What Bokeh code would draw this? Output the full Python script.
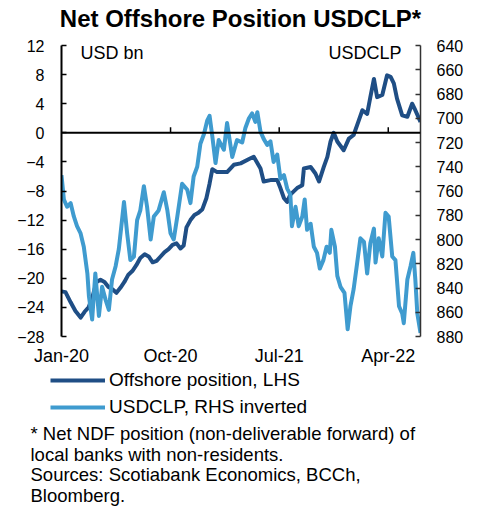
import pandas as pd
from bokeh.plotting import figure
from bokeh.layouts import column
from bokeh.models import (Range1d, LinearAxis, FixedTicker, Span, Label, Legend,
                          LegendItem, DatetimeTickFormatter)
from bokeh.embed import file_html
from bokeh.resources import INLINE

TITLE = "Net Offshore Position USDCLP*"
LEFT_UNIT = "USD bn"
RIGHT_UNIT = "USDCLP"
SERIES_NAMES = ["Offshore position, LHS", "USDCLP, RHS inverted"]
FOOTNOTES = ["* Net NDF position (non-deliverable forward) of",
             "local banks with non-residents.",
             "Sources: Scotiabank Economics, BCCh,",
             "Bloomberg."]

offshore_dates = [
    "2020-01-01", "2020-01-11", "2020-01-24", "2020-02-05", "2020-02-18", "2020-02-28",
    "2020-03-09", "2020-03-19", "2020-03-29", "2020-04-08", "2020-04-18", "2020-04-28",
    "2020-05-08", "2020-05-18", "2020-05-28", "2020-06-07", "2020-06-17", "2020-06-27",
    "2020-07-07", "2020-07-17", "2020-07-28", "2020-08-07", "2020-08-17", "2020-08-27",
    "2020-09-06", "2020-09-16", "2020-09-26", "2020-10-06", "2020-10-16", "2020-10-26",
    "2020-11-03", "2020-11-10", "2020-11-20", "2020-11-30", "2020-12-10", "2020-12-20",
    "2020-12-30", "2021-01-07", "2021-01-14", "2021-01-26", "2021-02-20", "2021-03-09",
    "2021-03-26", "2021-04-20", "2021-04-28", "2021-05-15", "2021-05-23", "2021-06-09",
    "2021-06-26", "2021-07-04", "2021-07-13", "2021-07-21", "2021-07-29", "2021-08-15",
    "2021-08-28", "2021-09-01", "2021-09-18", "2021-09-30", "2021-10-09", "2021-10-21",
    "2021-10-30", "2021-11-07", "2021-11-15", "2021-11-24", "2021-12-10", "2021-12-23",
    "2022-01-04", "2022-01-17", "2022-01-26", "2022-02-07", "2022-02-15", "2022-02-24",
    "2022-03-04", "2022-03-17", "2022-03-29", "2022-04-07", "2022-04-15", "2022-04-23",
    "2022-05-06", "2022-05-19", "2022-05-31", "2022-06-08", "2022-06-21"]
offshore_vals = [
    -21.8, -21.9, -23.3, -24.5, -25.4, -24.6,
    -24.0, -22.5, -20.5, -20.2, -20.5, -21.2,
    -21.5, -22.0, -21.3, -20.5, -19.5, -19.0,
    -18.2, -17.2, -16.7, -17.0, -17.8, -17.6,
    -17.0, -16.4, -16.0, -15.4, -15.2, -15.9,
    -15.5, -13.0, -12.0, -11.3, -11.0, -10.5,
    -9.0, -7.0, -5.0, -5.4, -5.4, -4.4,
    -4.2, -3.5, -3.3, -4.9, -6.7, -6.5,
    -6.5, -7.6, -9.0, -9.5, -8.5, -7.6,
    -7.2, -4.9, -4.7, -5.6, -6.7, -4.7,
    -3.3, -1.2, 0.0, -1.2, -2.4, -0.8,
    -0.3, 1.7, 3.1, 2.6, 4.9, 7.4,
    4.9, 5.2, 7.9, 7.7, 6.8, 4.7,
    2.4, 2.2, 4.0, 3.1, 1.5]

clp_dates = [
    "2020-01-01", "2020-01-07", "2020-01-15", "2020-01-24", "2020-02-01", "2020-02-09",
    "2020-02-18", "2020-02-26", "2020-03-06", "2020-03-10", "2020-03-18", "2020-03-26",
    "2020-04-04", "2020-04-12", "2020-04-21", "2020-04-29", "2020-05-07", "2020-05-16",
    "2020-05-24", "2020-06-06", "2020-06-14", "2020-06-22", "2020-07-01", "2020-07-09",
    "2020-07-17", "2020-07-26", "2020-08-03", "2020-08-12", "2020-08-20", "2020-09-01",
    "2020-09-14", "2020-09-23", "2020-10-01", "2020-10-09", "2020-10-18", "2020-10-30",
    "2020-11-12", "2020-11-20", "2020-11-28", "2020-12-07", "2020-12-15", "2020-12-24",
    "2021-01-01", "2021-01-07", "2021-01-14", "2021-01-22", "2021-01-30", "2021-02-12",
    "2021-02-20", "2021-03-05", "2021-03-17", "2021-03-30", "2021-04-07", "2021-04-16",
    "2021-04-24", "2021-05-02", "2021-05-07", "2021-05-15", "2021-05-23", "2021-06-01",
    "2021-06-09", "2021-06-17", "2021-06-26", "2021-07-04", "2021-07-13", "2021-07-21",
    "2021-07-29", "2021-08-02", "2021-08-11", "2021-08-19", "2021-08-28", "2021-09-03",
    "2021-09-09", "2021-09-18", "2021-09-26", "2021-10-04", "2021-10-11", "2021-10-20",
    "2021-10-28", "2021-11-05", "2021-11-09", "2021-11-18", "2021-11-24", "2021-12-02",
    "2021-12-12", "2021-12-20", "2021-12-27", "2022-01-04", "2022-01-13", "2022-01-21",
    "2022-01-30", "2022-02-07", "2022-02-15", "2022-02-24", "2022-02-28", "2022-03-08",
    "2022-03-17", "2022-03-25", "2022-04-02", "2022-04-11", "2022-04-19", "2022-04-28",
    "2022-05-06", "2022-05-10", "2022-05-19", "2022-05-27", "2022-06-03", "2022-06-08",
    "2022-06-13", "2022-06-21"]
clp_vals = [
    747, 767, 773, 770, 781, 789,
    795, 806, 828, 847, 866, 828,
    863, 839, 850, 858, 833, 822,
    808, 769, 795, 817, 814, 784,
    776, 756, 773, 800, 781, 776,
    761, 776, 795, 800, 781, 754,
    759, 770, 748, 740, 721, 713,
    702, 698, 715, 737, 718, 726,
    704, 732, 718, 720, 708, 700,
    696, 703, 695, 711, 717, 722,
    719, 736, 730, 750, 747, 758,
    763, 789, 773, 789, 781, 767,
    792, 787, 806, 811, 824, 817,
    806, 811, 792, 806, 830, 839,
    844, 874, 855, 841, 819, 799,
    802, 828, 803, 791, 819, 799,
    814, 778, 781, 814, 817, 855,
    861, 869, 833, 822, 811, 833,
    861, 877]

x_start, x_end = "2020-01-01", "2022-06-21"
x_tick_dates = ["2020-01-01", "2020-10-01", "2021-07-01", "2022-04-01"]
left_ticks = [-28, -24, -20, -16, -12, -8, -4, 0, 4, 8, 12]
right_ticks = [640, 660, 680, 700, 720, 740, 760, 780, 800, 820, 840, 860, 880]

DARK = "#1f4e85"
LIGHT = "#3f9bcf"
FONT = "Liberation Sans"
W, H_HEAD, H_TOP, H_BOT = 482, 36, 332, 140


def blank_panel(height):
    f = figure(width=W, height=height, output_backend="svg", toolbar_location=None,
               x_range=Range1d(0, 1), y_range=Range1d(0, 1),
               min_border=0, x_axis_location=None, y_axis_location=None)
    f.frame_align = False
    f.outline_line_color = None
    f.grid.visible = False
    f.background_fill_color = "white"
    f.border_fill_color = "white"
    return f


od = pd.to_datetime(offshore_dates)
cd = pd.to_datetime(clp_dates)
xt = pd.to_datetime(x_tick_dates)

# header with the title
t = blank_panel(H_HEAD)
t.add_layout(Label(x=240, y=18, x_units="screen", y_units="screen", text=TITLE,
                   text_align="center", text_baseline="middle",
                   text_font=FONT, text_font_size="24px", text_font_style="bold",
                   text_color="black"))

p = figure(width=W, height=H_TOP, output_backend="svg", toolbar_location=None,
           x_axis_type="datetime",
           x_range=Range1d(pd.Timestamp(x_start), pd.Timestamp(x_end)),
           y_range=Range1d(left_ticks[0], left_ticks[-1]),
           min_border_left=61, min_border_right=62, min_border_top=9,
           min_border_bottom=31)
p.frame_align = False
p.outline_line_color = None
p.grid.visible = False
p.background_fill_color = "white"
p.border_fill_color = "white"

p.extra_y_ranges = {"clp": Range1d(right_ticks[-1], right_ticks[0])}

# x axis: labels only
xa = p.xaxis[0]
xa.ticker = FixedTicker(ticks=[v.value / 1e6 for v in xt])
xa.formatter = DatetimeTickFormatter(days="%b-%y", months="%b-%y", years="%b-%y")
xa.axis_line_color = None
xa.major_tick_line_color = None
xa.minor_tick_line_color = None
xa.major_tick_out = 0
xa.major_tick_in = 0
xa.major_label_standoff = 9
xa.major_label_text_font = FONT
xa.major_label_text_font_size = "18px"
xa.major_label_text_color = "black"

ya = p.yaxis[0]
ya.ticker = FixedTicker(ticks=left_ticks)
ya.axis_line_color = "black"
ya.axis_line_width = 2
ya.major_tick_in = 5
ya.major_tick_out = 0
ya.major_tick_line_width = 1.5
ya.minor_tick_line_color = None
ya.major_label_standoff = 17
ya.major_label_text_font = FONT
ya.major_label_text_font_size = "16px"
ya.major_label_text_color = "black"

ra = LinearAxis(y_range_name="clp", ticker=FixedTicker(ticks=right_ticks))
ra.axis_line_color = "#333333"
ra.axis_line_width = 1.5
ra.major_tick_in = 5
ra.major_tick_out = 0
ra.major_tick_line_color = "#333333"
ra.major_tick_line_width = 1.5
ra.minor_tick_line_color = None
ra.major_label_standoff = 16
ra.major_label_text_font = FONT
ra.major_label_text_font_size = "16px"
ra.major_label_text_color = "black"
p.add_layout(ra, "right")

# zero line with upward ticks
p.add_layout(Span(location=0, dimension="width", line_color="black", line_width=2))
p.segment(x0=list(xt[1:]), y0=[0] * (len(xt) - 1), x1=list(xt[1:]),
          y1=[0.75] * (len(xt) - 1), line_color="black", line_width=1.5)

r1 = p.line(od, offshore_vals, line_color=DARK, line_width=4, line_join="round")
r2 = p.line(cd, clp_vals, line_color=LIGHT, line_width=4, line_join="round",
            y_range_name="clp")

p.add_layout(Label(x=19, y=284, x_units="screen", y_units="screen", text=LEFT_UNIT,
                   text_align="left", text_baseline="middle",
                   text_font=FONT, text_font_size="18px", text_color="black"))
p.add_layout(Label(x=340, y=284, x_units="screen", y_units="screen", text=RIGHT_UNIT,
                   text_align="right", text_baseline="middle",
                   text_font=FONT, text_font_size="18px", text_color="black"))

# bottom panel: legend and source notes
q = blank_panel(H_BOT)

# legend keys: the same series (outside this panel's view, only used for the key)
k1 = q.line(od, offshore_vals, line_color=DARK, line_width=4)
k2 = q.line(cd, clp_vals, line_color=LIGHT, line_width=4)
legend = Legend(items=[LegendItem(label=SERIES_NAMES[0], renderers=[k1]),
                       LegendItem(label=SERIES_NAMES[1], renderers=[k2])],
                location=(50, 90), orientation="vertical",
                border_line_color=None, background_fill_alpha=0,
                padding=0, margin=0, spacing=5, glyph_width=55, glyph_height=22,
                label_height=22, label_standoff=4,
                label_text_font=FONT, label_text_font_size="19px",
                label_text_color="black")
q.add_layout(legend, "center")

for i, line in enumerate(FOOTNOTES):
    q.add_layout(Label(x=30, y=75 - 20.5 * i, x_units="screen", y_units="screen",
                       text=line, text_align="left", text_baseline="alphabetic",
                       text_font=FONT, text_font_size="18.5px", text_color="black"))

layout = column(t, p, q, spacing=0)
open("out.html", "w").write(file_html(layout, INLINE))
